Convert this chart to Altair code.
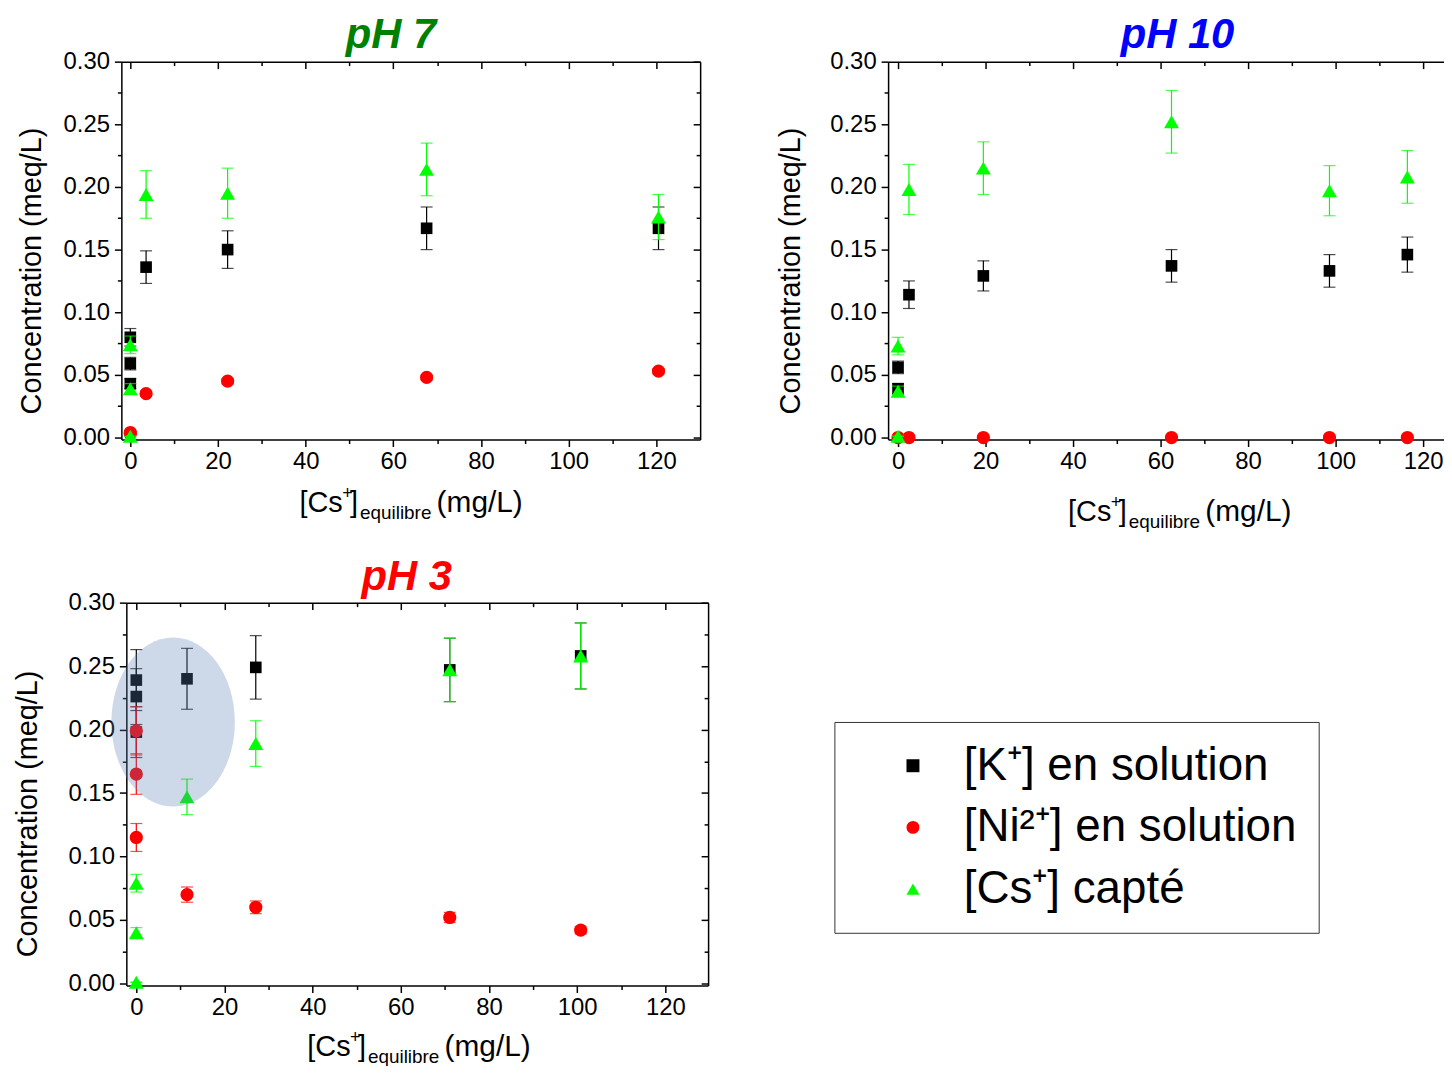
import altair as alt
import pandas as pd

FONT = "Liberation Sans"

SERIES = ["[K⁺] en solution", "[Ni²⁺] en solution", "[Cs⁺] capté"]
COLORS = ["#000000", "#FF0000", "#00FF00"]
SHAPES = ["square", "circle", "triangle-up"]
SIZES = [137, 177, 225]

X_MAJOR = [0, 20, 40, 60, 80, 100, 120]
X_MINOR = [10, 30, 50, 70, 90, 110]
Y_MAJOR = [0.0, 0.05, 0.10, 0.15, 0.20, 0.25, 0.30]
Y_MINOR = [0.025, 0.075, 0.125, 0.175, 0.225, 0.275]

# ---- pH 7 ----
ph7_k_x = [0, 0, 0, 3.6, 22.2, 67.6, 120.5]
ph7_k_y = [0.080, 0.059, 0.043, 0.136, 0.150, 0.167, 0.167]
ph7_k_err = [0.007, 0.005, 0.004, 0.013, 0.015, 0.017, 0.017]
ph7_ni_x = [0, 0, 3.6, 22.2, 67.6, 120.5]
ph7_ni_y = [0.003, 0.004, 0.035, 0.045, 0.048, 0.053]
ph7_ni_err = [0.001, 0.001, 0.002, 0.002, 0.002, 0.002]
ph7_cs_x = [0, 0, 0, 3.6, 22.2, 67.6, 120.5]
ph7_cs_y = [0.001, 0.039, 0.074, 0.194, 0.195, 0.214, 0.176]
ph7_cs_err = [0.0, 0.004, 0.007, 0.019, 0.020, 0.021, 0.018]

# ---- pH 10 ----
ph10_k_x = [0, 0, 2.5, 19.5, 62.5, 98.6, 116.4]
ph10_k_y = [0.056, 0.039, 0.114, 0.129, 0.137, 0.133, 0.146]
ph10_k_err = [0.005, 0.004, 0.011, 0.012, 0.013, 0.013, 0.014]
ph10_ni_x = [0, 2.5, 19.5, 62.5, 98.6, 116.4]
ph10_ni_y = [0.0, 0.0, 0.0, 0.0, 0.0, 0.0]
ph10_ni_err = [0.0, 0.0, 0.0, 0.0, 0.0, 0.0]
ph10_cs_x = [0, 0, 0, 2.5, 19.5, 62.5, 98.6, 116.4]
ph10_cs_y = [0.001, 0.037, 0.073, 0.198, 0.215, 0.252, 0.197, 0.208]
ph10_cs_err = [0.0, 0.004, 0.007, 0.020, 0.021, 0.025, 0.020, 0.021]

# ---- pH 3 ----
ph3_k_x = [0, 0, 0, 11.5, 27.1, 71.1, 100.8]
ph3_k_y = [0.239, 0.226, 0.198, 0.240, 0.249, 0.247, 0.258]
ph3_k_err = [0.024, 0.022, 0.020, 0.024, 0.025, 0.025, 0.026]
ph3_ni_x = [0, 0, 0, 11.5, 27.1, 71.1, 100.8]
ph3_ni_y = [0.199, 0.165, 0.115, 0.070, 0.060, 0.052, 0.042]
ph3_ni_err = [0.019, 0.016, 0.011, 0.006, 0.005, 0.004, 0.003]
ph3_cs_x = [0, 0, 0, 11.5, 27.1, 71.1, 100.8]
ph3_cs_y = [0.001, 0.040, 0.079, 0.147, 0.189, 0.247, 0.258]
ph3_cs_err = [0.0, 0.004, 0.007, 0.014, 0.018, 0.025, 0.026]

# highlighted region (pH 3)
ellipse_x = [8.35]
ellipse_y = [0.206]
ELLIPSE_PATH = "M -0.73 0 A 0.73 1 0 1 0 0.73 0 A 0.73 1 0 1 0 -0.73 0 Z"


def series_df(xs, ys, es, name):
    return pd.DataFrame({
        "x": xs, "y": ys,
        "lo": [a - b for a, b in zip(ys, es)],
        "hi": [a + b for a, b in zip(ys, es)],
        "series": [name] * len(xs),
    })


def axes_sets(W, H, xoff, yt_x, yt_y):
    GW = W + xoff
    common = dict(grid=False, tickColor="black", tickWidth=1.5,
                  domainColor="black", domainWidth=1.5, title=None)
    bottom_major = alt.Axis(orient="bottom", values=X_MAJOR, tickSize=7, labels=True,
                            labelFont=FONT, labelFontSize=24, labelColor="black",
                            labelPadding=3, labelFlush=False, labelOverlap=False,
                            format="d", domain=True, **common)
    left_major = alt.Axis(orient="left", offset=-xoff, values=Y_MAJOR, tickSize=7,
                          labels=True, labelFont=FONT, labelFontSize=24,
                          labelColor="black", labelPadding=5, labelFlush=False,
                          labelOverlap=False, format=".2f", domain=True,
                          grid=False, tickColor="black", tickWidth=1.5,
                          domainColor="black", domainWidth=1.5,
                          title="Concentration (meq/L)", titleFont=FONT,
                          titleFontSize=29, titleFontWeight="normal",
                          titleColor="black", titleX=yt_x, titleY=yt_y,
                          titleBaseline="middle", titleAlign="center")
    bottom_minor = alt.Axis(orient="bottom", values=X_MINOR, tickSize=4, labels=False,
                            domain=False, **common)
    left_minor = alt.Axis(orient="left", offset=-xoff, values=Y_MINOR, tickSize=4,
                          labels=False, domain=False, **common)
    top_major = alt.Axis(orient="bottom", offset=-H, values=X_MAJOR, tickSize=7,
                         labels=False, domain=True, **common)
    right_major = alt.Axis(orient="left", offset=-GW, values=Y_MAJOR, tickSize=7,
                           labels=False, domain=True, **common)
    top_minor = alt.Axis(orient="bottom", offset=-H, values=X_MINOR, tickSize=4,
                         labels=False, domain=False, **common)
    right_minor = alt.Axis(orient="left", offset=-GW, values=Y_MINOR, tickSize=4,
                           labels=False, domain=False, **common)
    return [(bottom_major, left_major), (bottom_minor, left_minor),
            (top_major, right_major), (top_minor, right_minor)]


def text_layer(txt, x, y, fs, color="black", **kw):
    return alt.Chart(pd.DataFrame({"d": [0]})).mark_text(
        text=txt, font=FONT, fontSize=fs, baseline="alphabetic", color=color, **kw
    ).encode(x=alt.value(x), y=alt.value(y))


def xtitle_layers(x0, y0):
    pieces = [("[Cs", 0, 0, 29), ("+", 43, -13, 18), ("]", 51, 0, 29),
              ("equilibre", 61, 7, 19), ("(mg/L)", 138, 0, 30)]
    return [text_layer(t, x0 + dx, y0 + dy, fs, align="left")
            for t, dx, dy, fs in pieces]


def panel(title, tcolor, tx, ty, datasets, xdom, ydom, W, H, xoff,
          yt_x, yt_y, xt_x, xt_y, legend=None, ellipse=False):
    GW = W + xoff
    xs = alt.Scale(domain=xdom, range=[xoff, GW], nice=False, zero=False)
    ys = alt.Scale(domain=ydom, nice=False, zero=False)
    cs = alt.Scale(domain=SERIES, range=COLORS)
    ss = alt.Scale(domain=SERIES, range=SHAPES)
    axes = axes_sets(W, H, xoff, yt_x, yt_y)
    layers = []
    k = 0

    def next_axes():
        nonlocal k
        a = axes[k] if k < len(axes) else (None, None)
        k += 1
        return a

    for i, df in enumerate(datasets):
        base = alt.Chart(df)
        xa, ya = next_axes()
        layers.append(base.mark_rule(strokeWidth=1.2, color=COLORS[i]).encode(
            x=alt.X("x:Q", scale=xs, axis=xa),
            y=alt.Y("lo:Q", scale=ys, axis=ya),
            y2="hi:Q",
        ))
        xa, ya = next_axes()
        layers.append(base.transform_fold(["lo", "hi"], as_=["k", "v"]).mark_tick(
            orient="horizontal", size=12, thickness=1.2, color=COLORS[i]
        ).encode(
            x=alt.X("x:Q", scale=xs, axis=xa),
            y=alt.Y("v:Q", scale=ys, axis=ya),
        ))
        xa, ya = next_axes()
        layers.append(base.mark_point(filled=True, size=SIZES[i], opacity=1,
                                      strokeWidth=0).encode(
            x=alt.X("x:Q", scale=xs, axis=xa),
            y=alt.Y("y:Q", scale=ys, axis=ya),
            color=alt.Color("series:N", scale=cs, legend=legend),
            shape=alt.Shape("series:N", scale=ss, legend=legend),
        ))

    if ellipse:
        edf = pd.DataFrame({"x": ellipse_x, "y": ellipse_y})
        layers.append(alt.Chart(edf).mark_point(
            shape=ELLIPSE_PATH, size=28900, filled=True, color="#5A7DB5",
            opacity=0.3, strokeWidth=0
        ).encode(
            x=alt.X("x:Q", scale=xs, axis=None),
            y=alt.Y("y:Q", scale=ys, axis=None),
        ))

    layers += xtitle_layers(xt_x, xt_y)
    layers.append(text_layer(title, tx, ty, 42, color=tcolor, align="center",
                             fontStyle="italic", fontWeight="bold"))

    return alt.layer(*layers).resolve_axis(
        x="independent", y="independent"
    ).properties(width=GW, height=H)


d7 = [series_df(ph7_k_x, ph7_k_y, ph7_k_err, SERIES[0]),
      series_df(ph7_ni_x, ph7_ni_y, ph7_ni_err, SERIES[1]),
      series_df(ph7_cs_x, ph7_cs_y, ph7_cs_err, SERIES[2])]
d10 = [series_df(ph10_k_x, ph10_k_y, ph10_k_err, SERIES[0]),
       series_df(ph10_ni_x, ph10_ni_y, ph10_ni_err, SERIES[1]),
       series_df(ph10_cs_x, ph10_cs_y, ph10_cs_err, SERIES[2])]
d3 = [series_df(ph3_k_x, ph3_k_y, ph3_k_err, SERIES[0]),
      series_df(ph3_ni_x, ph3_ni_y, ph3_ni_err, SERIES[1]),
      series_df(ph3_cs_x, ph3_cs_y, ph3_cs_err, SERIES[2])]

legend = alt.Legend(orient="none", legendX=717, legendY=120, title=None,
                    labelFont=FONT, labelFontSize=46, labelColor="black",
                    labelLimit=1000, symbolSize=170, symbolStrokeWidth=0,
                    strokeColor="#333333", fillColor="white", padding=21,
                    rowPadding=16, symbolOffset=35, labelOffset=28,
                    cornerRadius=0)

p7 = panel("pH 7", "#008000", 271, -14, d7, [-2.04, 130.0], [-0.0016, 0.30],
           582, 380, 0, -90, 210, 179, 453)
p10 = panel("pH 10", "#0000FF", 291, -14, d10, [-2.27, 130.0], [-0.0016, 0.30],
            582, 380, 0, -98, 210, 181, 462)
p3 = panel("pH 3", "#FF0000", 287, -13, d3, [-2.26, 129.7], [-0.0016, 0.30],
           585, 385, 5, -99, 212, 187, 456, legend=legend, ellipse=True)

chart = alt.concat(
    p7, p10, p3, columns=2, spacing={"row": 164, "column": 181},
    bounds="flush", align="none",
).resolve_scale(
    color="independent", shape="independent"
).properties(
    autosize=alt.AutoSizeParams(type="none"),
    padding={"left": 114, "top": 51, "right": 1330, "bottom": 1007},
    background="white",
).configure(font=FONT).configure_view(stroke=None)

chart.save("out.html", embed_options={"renderer": "svg", "actions": False})
